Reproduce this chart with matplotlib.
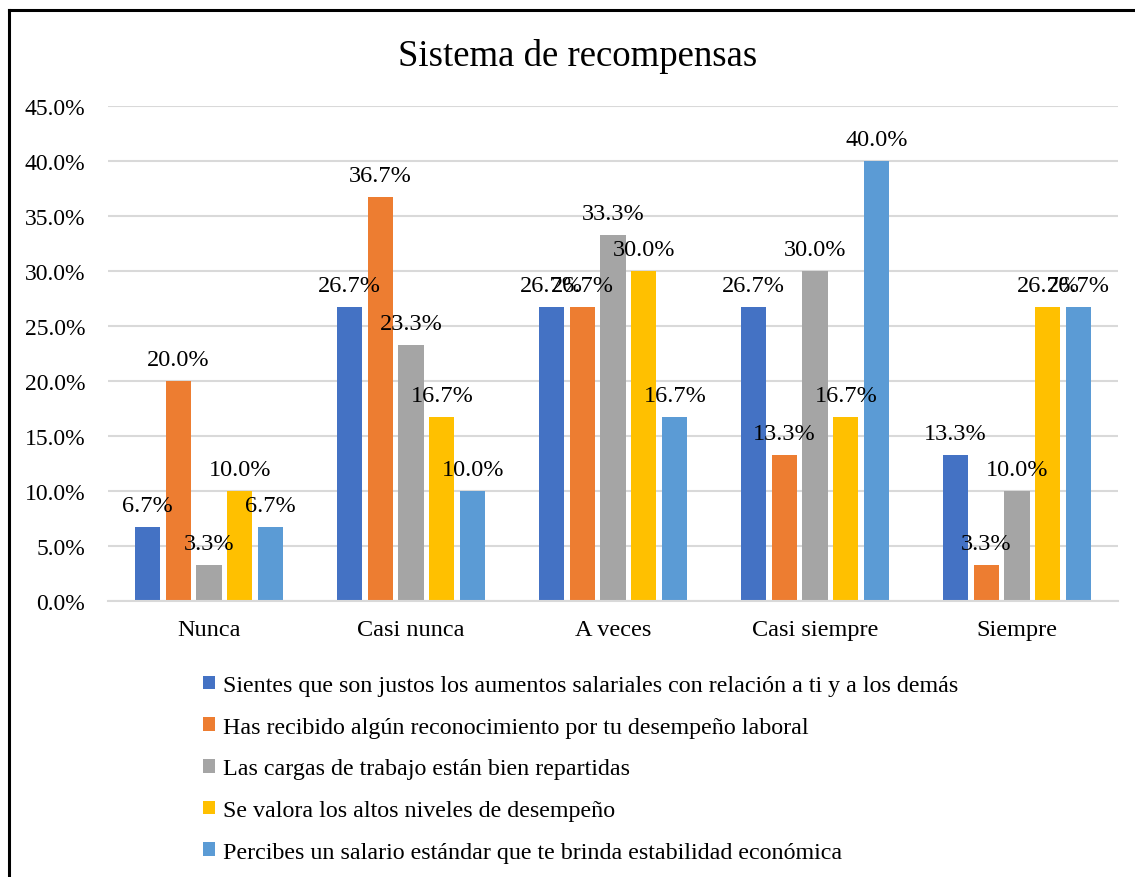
import matplotlib
matplotlib.use("Agg")
import matplotlib.pyplot as plt
import numpy as np
from matplotlib.lines import Line2D

plt.rcParams['font.family'] = ['Liberation Serif', 'DejaVu Serif']

categories = ["Nunca", "Casi nunca", "A veces", "Casi siempre", "Siempre"]
series_names = [
    "Sientes que son justos los aumentos salariales con relación a ti y a los demás",
    "Has recibido algún reconocimiento por tu desempeño laboral",
    "Las cargas de trabajo están bien repartidas",
    "Se valora los altos niveles de desempeño",
    "Percibes un salario estándar que te brinda estabilidad económica",
]
s1 = [6.7, 26.7, 26.7, 26.7, 13.3]
s2 = [20.0, 36.7, 26.7, 13.3, 3.3]
s3 = [3.3, 23.3, 33.3, 30.0, 10.0]
s4 = [10.0, 16.7, 30.0, 16.7, 26.7]
s5 = [6.7, 10.0, 16.7, 40.0, 26.7]
series = [s1, s2, s3, s4, s5]
colors = ["#4472C4", "#ED7D31", "#A5A5A5", "#FFC000", "#5B9BD5"]

fig = plt.figure(figsize=(11.35, 8.78), dpi=100)
ax = fig.add_axes([108/1135, 1-602/878, (1118-108)/1135, (602-107)/878])

x = np.arange(len(categories))
step = 0.153
width = 0.124
for i, (vals, c, name) in enumerate(zip(series, colors, series_names)):
    pos = x + (i - 2) * step
    bars = ax.bar(pos, [v/100 for v in vals], width=width, color=c, label=name, zorder=2)
    for b, v in zip(bars, vals):
        ax.annotate(f"{v:.1f}%", (b.get_x() + b.get_width()/2, b.get_height()),
                    xytext=(0, 8), textcoords="offset points", ha="center", va="bottom",
                    fontsize=17.5, color="#000000", zorder=3)

ax.set_xlim(-0.5, 4.5)
ax.set_ylim(0, 0.45)
ticks = np.arange(0, 0.451, 0.05)
ax.set_yticks(ticks)
ax.set_yticklabels([f"{t*100:.1f}%" for t in ticks], fontsize=17)
ax.set_xticks(x)
ax.set_xticklabels(categories, fontsize=17.5)
ax.tick_params(axis='both', length=0)
ax.tick_params(axis='y', pad=16.5)
ax.tick_params(axis='x', pad=13)
ax.yaxis.grid(True, color="#D9D9D9", linewidth=1.5, zorder=0)
ax.set_axisbelow(True)
for sp in ["top", "right", "left"]:
    ax.spines[sp].set_visible(False)
ax.spines["bottom"].set_color("#D9D9D9")
ax.spines["bottom"].set_linewidth(1.5)

fig.text(578/1135, 1-57/878, "Sistema de recompensas", ha="center", va="center", fontsize=26.5)

leg = fig.legend(loc="upper left", bbox_to_anchor=(203/1135, 1-676/878), frameon=False,
                 fontsize=17.3, handlelength=0.5, handleheight=0.5, handletextpad=0.35,
                 labelspacing=0.86, borderpad=0, borderaxespad=0)

fig.add_artist(Line2D([8.5/1135, 8.5/1135], [0, 1-10.5/878], transform=fig.transFigure, color="black", linewidth=2.2))
fig.add_artist(Line2D([8.5/1135, 1], [1-10.5/878, 1-10.5/878], transform=fig.transFigure, color="black", linewidth=2.2))

fig.savefig("out.png", dpi=100)
